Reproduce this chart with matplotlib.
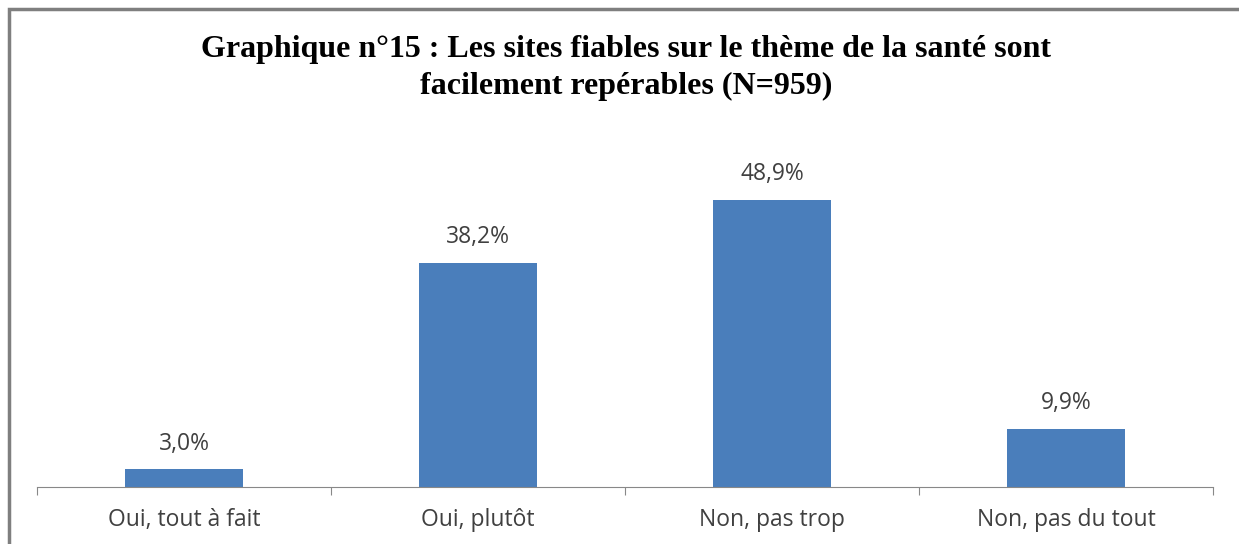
import matplotlib.pyplot as plt
from matplotlib.patches import Rectangle

categories = ['Oui, tout à fait', 'Oui, plutôt', 'Non, pas trop', 'Non, pas du tout']
values = [3.0, 38.2, 48.9, 9.9]
value_labels = ['3,0%', '38,2%', '48,9%', '9,9%']
title = 'Graphique n°15 : Les sites fiables sur le thème de la santé sont\nfacilement repérables (N=959)'

fig = plt.figure(figsize=(12.39, 5.44), dpi=100)

# grey frame around the chart (left and top visible, rest cut off)
fig.patches.append(Rectangle((9 / 1239, -0.1), 1.2, (544 - 9) / 544 + 0.1,
                             transform=fig.transFigure, fill=False,
                             edgecolor='#7f7f7f', linewidth=2.5))

ax = fig.add_axes([37 / 1239, 57 / 544, 1176 / 1239, 352 / 544])
x = range(len(categories))
ax.bar(x, values, width=0.4, color='#4A7EBB')
for i, v in enumerate(values):
    ax.text(i, v + 4.4, value_labels[i], ha='center', va='center',
            fontsize=16.5, color='#404040', family='Open Sans')

ax.set_xlim(-0.5, 3.5)
ax.set_ylim(0, 60)
for s in ['top', 'right', 'left']:
    ax.spines[s].set_visible(False)
ax.spines['bottom'].set_color('#888888')
ax.set_yticks([])
ax.set_xticks([-0.5, 0.5, 1.5, 2.5, 3.5], minor=False)
ax.set_xticklabels([])
ax.tick_params(axis='x', length=6, color='#888888', direction='out')
ax.set_xticks(list(x), minor=True)
ax.set_xticklabels(categories, minor=True, fontsize=16.5, color='#404040', family='Open Sans')
ax.tick_params(axis='x', which='minor', length=0, pad=15)

fig.text(0.505, 1 - 68 / 544, title, ha='center', va='center', fontsize=23,
         fontweight='bold', family='Liberation Serif', linespacing=1.4)

fig.savefig('out.png', dpi=100)
